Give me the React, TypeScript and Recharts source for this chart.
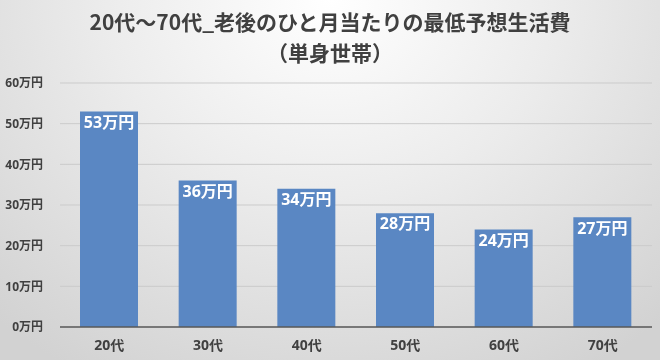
import { BarChart, Bar, XAxis, YAxis, CartesianGrid, LabelList } from "recharts";

const ages = ["20代", "30代", "40代", "50代", "60代", "70代"];
const costs = [53, 36, 34, 28, 24, 27];
const yTicks = [0, 10, 20, 30, 40, 50, 60];

const chartData = ages.map((age, i) => ({ age, cost: costs[i] }));

const FONT = "'Open Sans', 'Noto Sans CJK JP', sans-serif";
const TEXT_COLOR = "#404040";

export default function App() {
  return (
    <div
      style={{
        position: "fixed",
        left: 0,
        top: 0,
        width: 660,
        height: 360,
        overflow: "hidden",
        background: "radial-gradient(ellipse 75% 120% at 50% 0%, #ffffff 0%, #ececec 45%, #d2d2d2 100%)",
        fontFamily: FONT,
      }}
    >
      <div
        style={{
          position: "absolute",
          top: 6,
          left: 0,
          width: 660,
          textAlign: "center",
          fontSize: 21,
          fontWeight: 700,
          color: TEXT_COLOR,
          lineHeight: "31px",
          fontFamily: "'Noto Sans CJK JP', sans-serif",
        }}
      >
        <div>20代～70代_老後のひと月当たりの最低予想生活費</div>
        <div>（単身世帯）</div>
      </div>
      <div style={{ position: "absolute", left: 0, top: 0 }}>
        <BarChart
          width={660}
          height={360}
          data={chartData}
          margin={{ top: 83, right: 8, bottom: 0, left: 0 }}
          barSize={58}
        >
          <CartesianGrid vertical={false} stroke="#cbcbcb" />
          <XAxis
            dataKey="age"
            height={33}
            tickLine={false}
            axisLine={{ stroke: "#595959", strokeWidth: 1.5 }}
            tick={{ fill: TEXT_COLOR, fontSize: 14, fontWeight: 700, fontFamily: FONT }}
            tickMargin={7}
          />
          <YAxis
            width={60}
            domain={[0, 60]}
            ticks={yTicks}
            interval={0}
            tickLine={false}
            axisLine={false}
            tickFormatter={(v: number) => `${v}万円`}
            tick={{ fill: TEXT_COLOR, fontSize: 12, fontWeight: 700, fontFamily: FONT }}
            tickMargin={11}
          />
          <Bar dataKey="cost" fill="#5a87c3" isAnimationActive={false}>
            <LabelList
              dataKey="cost"
              position="insideTop"
              offset={5}
              formatter={((v: number) => `${v}万円`) as never}
              style={{ fill: "#ffffff", fontSize: 16, fontWeight: 700, fontFamily: FONT }}
            />
          </Bar>
        </BarChart>
      </div>
    </div>
  );
}
